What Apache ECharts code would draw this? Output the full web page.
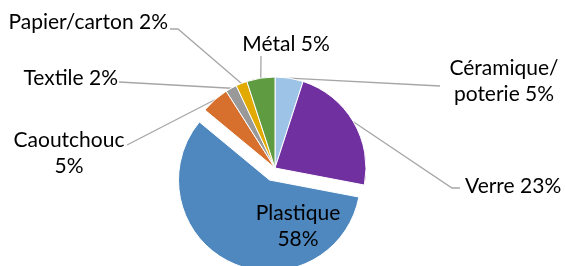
<!DOCTYPE html>
<html>
<head>
<meta charset="utf-8">
<script src="https://cdn.jsdelivr.net/npm/echarts@6/dist/echarts.min.js"></script>
<style>
  html, body { margin: 0; padding: 0; background: #fff; }
  #chart { width: 565px; height: 266px; }
</style>
</head>
<body>
<div id="chart"></div>
<script>
  // valeurs (%), sens horaire depuis midi
  let categories = ['Céramique/poterie', 'Verre', 'Plastique', 'Caoutchouc', 'Textile', 'Papier/carton', 'Métal'];
  let values = [5, 23, 58, 5, 2, 2, 5];
  let labelTexts = ['Céramique/\npoterie 5%', 'Verre 23%', 'Plastique\n58%', 'Caoutchouc\n5%', 'Textile 2%', 'Papier/carton 2%', 'Métal 5%'];
  let colors = ['#9DC3E6', '#7030A0', '#4E88BF', '#D8702D', '#999999', '#E2AA00', '#5F9B40'];

  // placement des étiquettes (x, y, align) + points de la ligne de rappel
  let labelPos = [
    { x: 504, y: 81, align: 'center', line: [[440, 86]] },
    { x: 465, y: 186, align: 'left', line: [[452, 188], [460, 188]] },
    { x: 298, y: 226, align: 'center', line: null },
    { x: 69, y: 153, align: 'center', line: [[127, 145]] },
    { x: 118, y: 78, align: 'right', line: [[119, 82]] },
    { x: 168, y: 22, align: 'right', line: [[178, 29], [170, 29]] },
    { x: 286, y: 44, align: 'center', line: [[261, 56]] }
  ];

  let explodeIdx = 2;
  let center = [275, 168];
  let radius = 91;

  let chart = echarts.init(document.getElementById('chart'));

  let baseData = categories.map(function (c, i) {
    return {
      name: c,
      value: values[i],
      itemStyle: { color: i === explodeIdx ? 'rgba(0,0,0,0)' : colors[i], borderColor: i === explodeIdx ? 'rgba(0,0,0,0)' : '#fff' },
      label: { show: i !== explodeIdx },
      labelLine: { show: i !== explodeIdx }
    };
  });

  let explodeData = categories.map(function (c, i) {
    return {
      name: c,
      value: values[i],
      itemStyle: { color: i === explodeIdx ? colors[i] : 'rgba(0,0,0,0)', borderColor: i === explodeIdx ? '#fff' : 'rgba(0,0,0,0)' },
      label: { show: i === explodeIdx },
      labelLine: { show: false }
    };
  });

  let labelStyle = {
    formatter: function (p) { return labelTexts[p.dataIndex]; },
    fontFamily: 'Lato',
    fontSize: 21,
    lineHeight: 26,
    color: '#000'
  };

  let layoutFn = function (params) {
    let lp = labelPos[params.dataIndex];
    let out = { x: lp.x, y: lp.y, align: lp.align, verticalAlign: 'middle' };
    if (lp.line && params.labelLinePoints) {
      out.labelLinePoints = [params.labelLinePoints[0]].concat(lp.line);
    }
    return out;
  };

  let option = {
    animation: false,
    series: [
      {
        type: 'pie',
        center: center,
        radius: radius,
        startAngle: 90,
        clockwise: true,
        data: baseData,
        itemStyle: { borderWidth: 1 },
        label: Object.assign({ position: 'outside' }, labelStyle),
        labelLine: { show: true, length: 10, length2: 10, lineStyle: { color: '#A6A6A6', width: 1.3 } },
        labelLayout: layoutFn,
        emphasis: { disabled: true }
      },
      {
        type: 'pie',
        center: [center[0] - 5.5, center[1] + 12],
        radius: radius,
        startAngle: 90,
        clockwise: true,
        data: explodeData,
        itemStyle: { borderWidth: 1 },
        label: Object.assign({ position: 'inside' }, labelStyle),
        labelLine: { show: false },
        labelLayout: layoutFn,
        emphasis: { disabled: true }
      }
    ]
  };

  chart.setOption(option);
  window.addEventListener('resize', function () {
    chart.resize();
  });
</script>
</body>
</html>
